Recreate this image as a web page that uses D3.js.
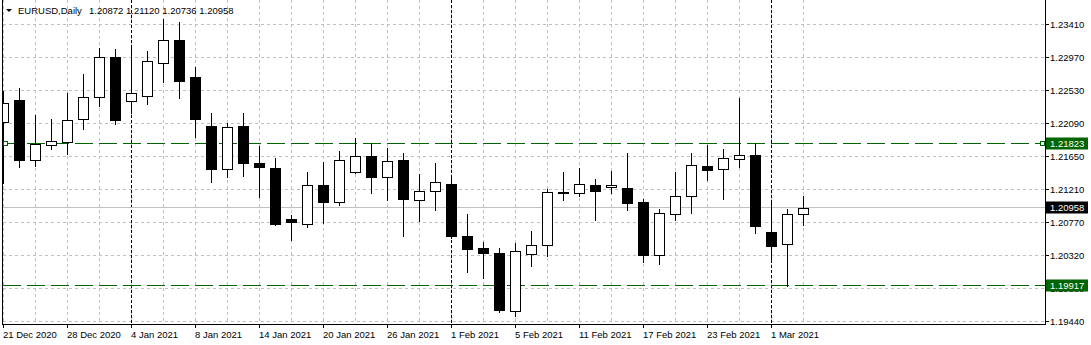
<!DOCTYPE html>
<html>
<head>
<meta charset="utf-8">
<script src="https://cdn.jsdelivr.net/npm/d3@7"></script>
<style>
    html, body { margin: 0; padding: 0; background: #fff; }
    svg text { font-family: "Liberation Sans", Arial, sans-serif; font-size: 9.5px; fill: #000; }
</style>
</head>
<body>
<div id="chart"></div>
<script>
// datos de velas (diario)
var fechas = ["2020-12-21", "2020-12-22", "2020-12-23", "2020-12-24", "2020-12-28", "2020-12-29", "2020-12-30", "2020-12-31",
    "2021-01-04", "2021-01-05", "2021-01-06", "2021-01-07", "2021-01-08", "2021-01-11", "2021-01-12", "2021-01-13",
    "2021-01-14", "2021-01-15", "2021-01-18", "2021-01-19", "2021-01-20", "2021-01-21", "2021-01-22", "2021-01-25",
    "2021-01-26", "2021-01-27", "2021-01-28", "2021-01-29", "2021-02-01", "2021-02-02", "2021-02-03", "2021-02-04",
    "2021-02-05", "2021-02-08", "2021-02-09", "2021-02-10", "2021-02-11", "2021-02-12", "2021-02-15", "2021-02-16",
    "2021-02-17", "2021-02-18", "2021-02-19", "2021-02-22", "2021-02-23", "2021-02-24", "2021-02-25", "2021-02-26",
    "2021-03-01", "2021-03-02", "2021-03-03"];
var aperturas = [1.22112, 1.22402, 1.21605, 1.21796, 1.21836, 1.22143, 1.22446, 1.22971, 1.22384, 1.22459,
    1.22891, 1.23198, 1.22704, 1.22054, 1.21485, 1.22054, 1.21560, 1.21489, 1.20808, 1.20737,
    1.21262, 1.21044, 1.21436, 1.21649, 1.21378, 1.21596, 1.21062, 1.21178, 1.21280, 1.20581,
    1.20421, 1.20354, 1.19576, 1.20337, 1.20457, 1.21173, 1.21155, 1.21262, 1.21236, 1.21222,
    1.21035, 1.20328, 1.20875, 1.21111, 1.21516, 1.21485, 1.21609, 1.21663, 1.20635, 1.20475,
    1.20872];
var maximos = [1.22522, 1.22557, 1.22201, 1.22148, 1.22499, 1.22749, 1.23091, 1.23078, 1.23091, 1.23056,
    1.23483, 1.23443, 1.22842, 1.22224, 1.22090, 1.22224, 1.21787, 1.21627, 1.20866, 1.21436,
    1.21574, 1.21721, 1.21894, 1.21823, 1.21765, 1.21689, 1.21414, 1.21556, 1.21387, 1.20880,
    1.20501, 1.20426, 1.20488, 1.20653, 1.21213, 1.21436, 1.21489, 1.21342, 1.21454, 1.21689,
    1.21075, 1.20942, 1.21440, 1.21689, 1.21796, 1.21743, 1.22424, 1.21823, 1.21022, 1.20942,
    1.21120];
var minimos = [1.21289, 1.21511, 1.21520, 1.21752, 1.21681, 1.22019, 1.22321, 1.22081, 1.22232, 1.22353,
    1.22646, 1.22433, 1.21912, 1.21307, 1.21365, 1.21391, 1.21098, 1.20728, 1.20524, 1.20706,
    1.20751, 1.20991, 1.21427, 1.21151, 1.21066, 1.20577, 1.20786, 1.20924, 1.20559, 1.20105,
    1.20021, 1.19562, 1.19518, 1.20185, 1.20310, 1.21066, 1.21111, 1.20799, 1.21151, 1.20937,
    1.20230, 1.20203, 1.20799, 1.20897, 1.21333, 1.21084, 1.21511, 1.20617, 1.20230, 1.19917,
    1.20736];
var cierres = [1.22357, 1.21600, 1.21814, 1.21850, 1.22130, 1.22437, 1.22971, 1.22139, 1.22491, 1.22918,
    1.23198, 1.22660, 1.22152, 1.21485, 1.22037, 1.21552, 1.21511, 1.20737, 1.20764, 1.21262,
    1.21044, 1.21596, 1.21649, 1.21378, 1.21583, 1.21071, 1.21182, 1.21302, 1.20577, 1.20403,
    1.20350, 1.19589, 1.20381, 1.20461, 1.21169, 1.21151, 1.21276, 1.21178, 1.21262, 1.21018,
    1.20332, 1.20888, 1.21115, 1.21529, 1.21471, 1.21623, 1.21663, 1.20710, 1.20443, 1.20872,
    1.20958];

// etiquetas del eje de precios
var preciosEje = [1.23410, 1.22970, 1.22530, 1.22090, 1.21650, 1.21210, 1.20770, 1.20320, 1.19880, 1.19440];

// lineas horizontales y precio bid
var nivelSuperior = 1.21823;
var nivelInferior = 1.19917;
var precioBid = 1.20958;
var simbolo = "EURUSD,Daily";

var width = 1091, height = 345;
var plotLeft = 3, plotRight = 1045, plotBottom = 324;
var verde = "#006400";

var svg = d3.select("#chart").append("svg")
    .attr("width", width)
    .attr("height", height);

svg.append("rect").attr("width", width).attr("height", height).attr("fill", "#fff");

svg.append("defs").append("clipPath").attr("id", "area")
    .append("rect")
    .attr("x", plotLeft).attr("y", 0)
    .attr("width", plotRight - plotLeft).attr("height", plotBottom);

var x = d3.scalePoint()
    .domain(fechas)
    .range([3.5, 3.5 + 16 * (fechas.length - 1)]);

var y = d3.scaleLinear()
    .domain([1.19440, 1.23410])
    .range([321.5, 24.5]);

function py(v) { return Math.floor(y(v)) + 0.5; }

var parse = d3.timeParse("%Y-%m-%d");
var fmtFecha = d3.timeFormat("%-d %b %Y");
var fmtPrecio = d3.format(".5f");

var velas = fechas.map(function (f, i) {
    return { fecha: f, o: aperturas[i], h: maximos[i], l: minimos[i], c: cierres[i], i: i };
});

var chart = svg.append("g").attr("clip-path", "url(#area)");

// rejilla
chart.selectAll(".gridV")
    .data(fechas.filter(function (d, i) { return i % 2 === 0; }))
    .enter().append("line")
    .attr("x1", function (d) { return x(d); })
    .attr("x2", function (d) { return x(d); })
    .attr("y1", 0).attr("y2", plotBottom)
    .attr("stroke", "#c0c0c0")
    .attr("stroke-dasharray", "3,3");

chart.selectAll(".gridH")
    .data(preciosEje)
    .enter().append("line")
    .attr("x1", plotLeft).attr("x2", plotRight)
    .attr("y1", function (d) { return py(d); })
    .attr("y2", function (d) { return py(d); })
    .attr("stroke", "#c0c0c0")
    .attr("stroke-dasharray", "3,3");

// separadores de meses
var inicioMes = fechas.filter(function (f, i) {
    return i > 0 && f.substring(5, 7) !== fechas[i - 1].substring(5, 7);
});

chart.selectAll(".sep")
    .data(inicioMes)
    .enter().append("line")
    .attr("x1", function (d) { return x(d); })
    .attr("x2", function (d) { return x(d); })
    .attr("y1", 0).attr("y2", plotBottom)
    .attr("stroke", "#000")
    .attr("stroke-dasharray", "3,2");

// linea bid
chart.append("line")
    .attr("x1", plotLeft).attr("x2", plotRight)
    .attr("y1", py(precioBid)).attr("y2", py(precioBid))
    .attr("stroke", "#c0c0c0");

// lineas horizontales verdes
chart.selectAll(".nivel")
    .data([nivelSuperior, nivelInferior])
    .enter().append("line")
    .attr("x1", 3).attr("x2", plotRight)
    .attr("y1", function (d) { return py(d); })
    .attr("y2", function (d) { return py(d); })
    .attr("stroke", verde)
    .attr("stroke-dasharray", "18,6");

// velas
chart.selectAll(".mecha")
    .data(velas)
    .enter().append("line")
    .attr("x1", function (d) { return x(d.fecha); })
    .attr("x2", function (d) { return x(d.fecha); })
    .attr("y1", function (d) { return Math.round(y(d.h)); })
    .attr("y2", function (d) { return Math.round(y(d.l)) + 1; })
    .attr("stroke", "#000");

chart.selectAll(".cuerpo")
    .data(velas)
    .enter().append("rect")
    .attr("x", function (d) { return x(d.fecha) - 5; })
    .attr("y", function (d) { return Math.round(y(Math.max(d.o, d.c))) + 0.5; })
    .attr("width", 10)
    .attr("height", function (d) {
        return Math.max(1, Math.round(y(Math.min(d.o, d.c))) - Math.round(y(Math.max(d.o, d.c))));
    })
    .attr("fill", function (d) { return d.c >= d.o ? "#fff" : "#000"; })
    .attr("stroke", "#000");

// marcadores de la linea seleccionada
svg.selectAll(".punto")
    .data([3.5, 1040.5])
    .enter().append("rect")
    .attr("x", function (d) { return d; })
    .attr("y", py(nivelSuperior) - 2)
    .attr("width", 4).attr("height", 4)
    .attr("fill", "#fff")
    .attr("stroke", verde);

// marco
svg.append("line").attr("x1", 2.5).attr("x2", 2.5).attr("y1", 0).attr("y2", plotBottom + 0.5).attr("stroke", "#000");
svg.append("line").attr("x1", plotRight + 0.5).attr("x2", plotRight + 0.5).attr("y1", 0).attr("y2", plotBottom + 0.5).attr("stroke", "#000");
svg.append("line").attr("x1", 2).attr("x2", plotRight + 1).attr("y1", plotBottom + 0.5).attr("y2", plotBottom + 0.5).attr("stroke", "#000");

// eje de precios
var ejeY = svg.append("g");
ejeY.selectAll(".tickY")
    .data(preciosEje)
    .enter().append("line")
    .attr("x1", plotRight + 1).attr("x2", plotRight + 4)
    .attr("y1", function (d) { return py(d); })
    .attr("y2", function (d) { return py(d); })
    .attr("stroke", "#000");

ejeY.selectAll(".lblY")
    .data(preciosEje)
    .enter().append("text")
    .attr("x", 1050)
    .attr("y", function (d) { return py(d) + 3.5; })
    .text(function (d) { return fmtPrecio(d); });

var etiquetas = [
    { v: nivelSuperior, bg: verde },
    { v: precioBid, bg: "#000" },
    { v: nivelInferior, bg: verde }
];

var marcas = ejeY.selectAll(".marca")
    .data(etiquetas)
    .enter().append("g");

marcas.append("rect")
    .attr("x", plotRight + 1)
    .attr("y", function (d) { return py(d.v) - 6; })
    .attr("width", 42)
    .attr("height", 12)
    .attr("fill", function (d) { return d.bg; });

marcas.append("text")
    .attr("x", 1050)
    .attr("y", function (d) { return py(d.v) + 3.5; })
    .style("fill", "#fff")
    .text(function (d) { return fmtPrecio(d.v); });

// eje de fechas
var fechasEje = fechas.filter(function (d, i) { return i % 4 === 0; });

var ejeX = svg.append("g");
ejeX.selectAll(".tickX")
    .data(fechasEje)
    .enter().append("line")
    .attr("x1", function (d) { return x(d); })
    .attr("x2", function (d) { return x(d); })
    .attr("y1", plotBottom + 1).attr("y2", plotBottom + 4)
    .attr("stroke", "#000");

ejeX.selectAll(".lblX")
    .data(fechasEje)
    .enter().append("text")
    .attr("x", function (d) { return x(d) - 0.5; })
    .attr("y", 338)
    .text(function (d) { return fmtFecha(parse(d)); });

// cabecera
var ultima = velas[velas.length - 1];
svg.append("path").attr("d", "M6,9 L12,9 L9,12 Z").attr("fill", "#000");
svg.append("text").attr("x", 18).attr("y", 14).text(simbolo);
svg.append("text").attr("x", 89).attr("y", 14)
    .text([ultima.o, ultima.h, ultima.l, ultima.c].map(fmtPrecio).join(" "));
</script>
</body>
</html>
